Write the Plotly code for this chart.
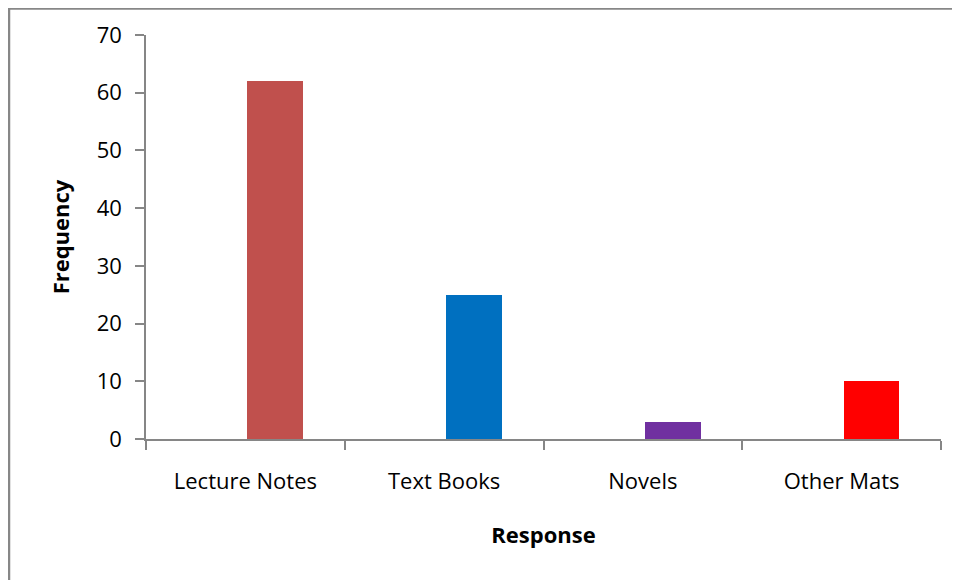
import plotly.graph_objects as go

categories = ["Lecture Notes", "Text Books", "Novels", "Other Mats"]
frequency = [62, 25, 3, 10]
bar_colors = ["#C0504D", "#0070C0", "#7030A0", "#FF0000"]
y_ticks = [0, 10, 20, 30, 40, 50, 60, 70]

# page body has an 8px margin; size the figure to fit the 960x580 window
W, H = 952, 572
ml, mr, mt, mb = 138, 19, 27, 141
pw, ph = W - ml - mr, H - mt - mb

fig = go.Figure()
fig.add_trace(go.Bar(
    x=categories, y=frequency,
    marker=dict(color=bar_colors, line=dict(width=0)),
    width=0.28, offset=0.01,
    hoverinfo="x+y",
))

axis_col = "#868686"
font_fam = "Open Sans, Liberation Sans, sans-serif"
fs = 22

def px_x(p):
    return (p - ml) / pw

def px_y(p):
    return 1 - (p - mt) / ph

# frame lines (top and left)
fig.add_shape(type="line", xref="paper", yref="paper",
              x0=px_x(1), x1=px_x(W + 5), y0=px_y(0.5), y1=px_y(0.5),
              line=dict(color="#878787", width=2.5))
fig.add_shape(type="line", xref="paper", yref="paper",
              x0=px_x(1), x1=px_x(1), y0=px_y(0), y1=px_y(H + 5),
              line=dict(color="#878787", width=2.5))

fig.update_layout(
    width=W, height=H,
    margin=dict(l=ml, r=mr, t=mt, b=mb, pad=0),
    paper_bgcolor="white", plot_bgcolor="white",
    showlegend=False,
    bargap=0,
    font=dict(family=font_fam, color="#000000"),
    xaxis=dict(
        type="category",
        showline=True, linecolor=axis_col, linewidth=2,
        ticks="outside", tickson="boundaries", ticklen=9, tickwidth=1.5, tickcolor=axis_col,
        tickfont=dict(size=fs, family=font_fam),
        ticklabelstandoff=22,
        showgrid=False, zeroline=False,
        title=dict(text="<b>Response</b>", font=dict(size=fs, family=font_fam), standoff=33),
        range=[-0.5, 3.5],
    ),
    yaxis=dict(
        range=[0, 70], tickvals=y_ticks,
        showline=True, linecolor=axis_col, linewidth=1.5,
        ticks="outside", ticklen=9, tickwidth=1.5, tickcolor=axis_col,
        tickfont=dict(size=fs, family=font_fam),
        ticklabelstandoff=9,
        showgrid=False, zeroline=False,
        title=dict(text="<b>Frequency</b>", font=dict(size=fs, family=font_fam), standoff=21),
    ),
)

fig.write_html("out.html")
